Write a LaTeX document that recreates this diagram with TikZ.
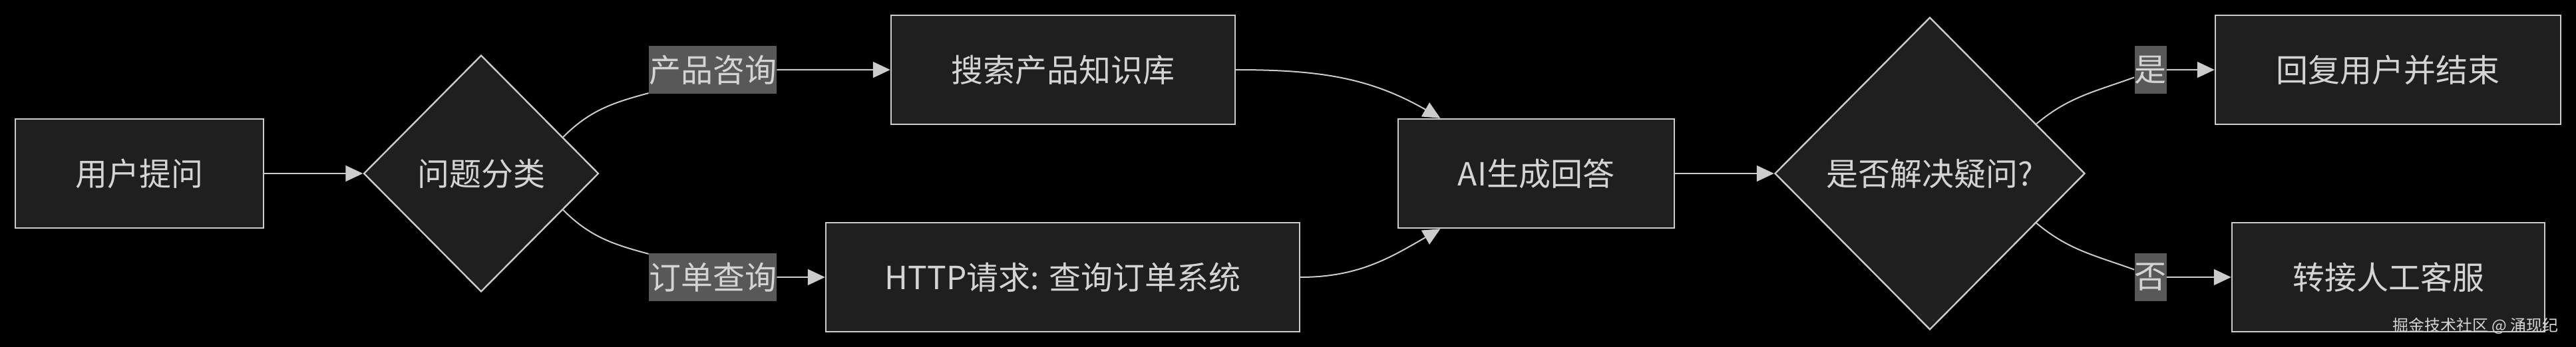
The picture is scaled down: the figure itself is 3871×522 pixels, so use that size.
\documentclass[tikz,border=0pt]{standalone}
\usepackage{fontspec}
\newfontfamily\cjk{Noto Sans CJK SC}
\usepackage{tikz}
\usetikzlibrary{arrows.meta}
\usetikzlibrary{shapes.geometric}
\definecolor{boxfill}{HTML}{1F1F1F}
\definecolor{boxline}{HTML}{CCCCCC}
\definecolor{txt}{HTML}{D4D4D4}
\definecolor{lblfill}{HTML}{585858}

\begin{document}
\begin{tikzpicture}[x=0.5pt,y=-0.5pt]
\tikzstyle{box} = [draw=boxline, line width=1.2pt, fill=boxfill, text=txt, font=\cjk\fontsize{24}{28}\selectfont, minimum height=82pt]
\tikzstyle{choice} = [box, diamond, inner sep=0pt]
\tikzstyle{lbl} = [fill=lblfill, text=txt, font=\cjk\fontsize{24}{28}\selectfont, inner xsep=0pt, inner ysep=0pt, minimum height=36pt]
\tikzstyle{arr} = [draw=boxline, line width=1pt, -{Triangle[length=13pt,width=12pt]}]
\fill[black] (0,0) rectangle (3871,522);
\useasboundingbox (0,0) rectangle (3871,522);
\node[box, minimum width=186.5pt] (ask) at (209.5,261) {用户提问};
\node[choice, minimum width=176.5pt, minimum height=178pt] (cls) at (723,261) {问题分类};
\node[box, minimum width=258.5pt] (kb) at (1597.5,105) {搜索产品知识库};
\node[box, minimum width=356pt] (http) at (1597,417) {HTTP请求: 查询订单系统};
\node[box, minimum width=207.5pt] (ai) at (2308.5,261) {AI生成回答};
\node[choice, minimum width=233pt, minimum height=235pt] (dec) at (2900,261) {是否解决疑问?};
\node[box, minimum width=259.5pt] (done) at (3588.5,105) {回复用户并结束};
\node[box, minimum width=235pt] (agent) at (3589,417) {转接人工客服};
\node[lbl] (lp) at (1071,105) {产品咨询};
\node[lbl] (lo) at (1071,417) {订单查询};
\node[lbl] (yes) at (3231.5,105) {是};
\node[lbl] (no) at (3231.5,417) {否};
\node[anchor=east, text=txt, font=\cjk\fontsize{12}{14}\selectfont] (mark) at (3852,490) {掘金技术社区 @ 涌现纪};
\draw[arr] (ask) -- (cls);
\draw[arr] (cls.24) to[out=45,in=195] (lp.200) (lp) -- (kb);
\draw[arr] (cls.-24) to[out=-45,in=165] (lo.160) (lo) -- (http);
\draw[arr] (kb) to[out=0,in=150] (ai);
\draw[arr] (http) to[out=0,in=210] (ai);
\draw[arr] (ai) -- (dec);
\draw[arr] (dec.25) to[out=40,in=200] (yes.205) (yes) -- (done);
\draw[arr] (dec.-25) to[out=-40,in=160] (no.155) (no) -- (agent);
\end{tikzpicture}
\end{document}
